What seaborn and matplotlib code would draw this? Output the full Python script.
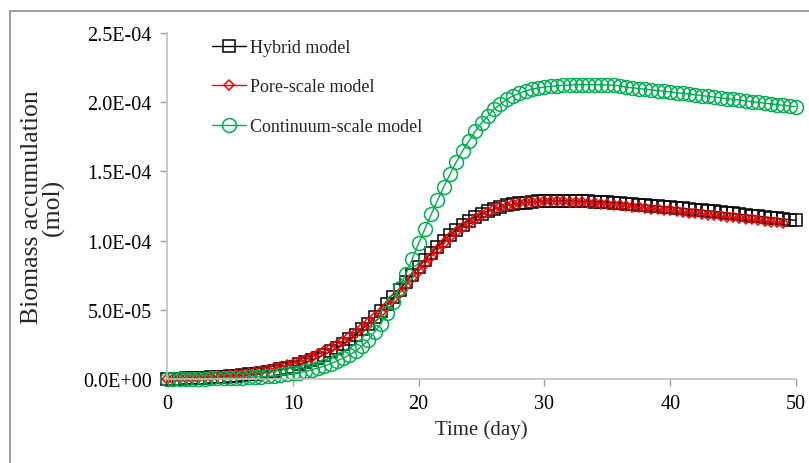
import matplotlib
matplotlib.use('Agg')
import matplotlib.pyplot as plt
import seaborn as sns
import numpy as np
import pandas as pd
from matplotlib.patches import Rectangle

# Biomass accumulation, in units of 1e-6 mol, sampled every 0.5 day
hybrid = [
    0, 0.15, 0.3, 0.45, 0.6, 0.8, 1.0, 1.25, 1.5, 1.8,
    2.1, 2.5, 2.9, 3.4, 3.9, 4.5, 5.2, 6.0, 6.9, 7.9,
    9, 10.5, 12, 13.7, 15.5, 17.7, 20, 22.7, 25.5, 28.7,
    32, 36, 40, 44.5, 49, 54, 59, 64.5, 70, 75.5,
    81, 86, 91, 95.5, 100, 104, 108, 111.5, 114.5, 117.2,
    119.5, 121.4, 123, 124.4, 125.5, 126.3, 127, 127.5, 128, 128.3,
    128.5, 128.6, 128.7, 128.7, 128.7, 128.6, 128.5, 128.4, 128.2, 128,
    127.7, 127.4, 127.1, 126.8, 126.4, 126, 125.7, 125.3, 124.9, 124.5,
    124.1, 123.7, 123.3, 122.9, 122.4, 122, 121.5, 121.1, 120.6, 120.1,
    119.6, 119.1, 118.6, 118.1, 117.6, 117.1, 116.6, 116.1, 115.6, 115.1,
    114.6,
]
pore_scale = [
    0, 0.2, 0.4, 0.6, 0.8, 1.05, 1.3, 1.6, 2.0, 2.4,
    2.8, 3.3, 3.8, 4.4, 5.0, 5.8, 6.6, 7.6, 8.6, 9.8,
    11, 12.5, 14, 15.9, 17.8, 20, 22.3, 24.9, 27.5, 30.5,
    33.5, 37, 40.5, 44.5, 48.5, 53, 57.5, 62.5, 67.5, 72.8,
    78, 83.3, 88.5, 93.3, 98, 102.3, 106.5, 110, 113, 115.9,
    118.5, 120.6, 122.5, 124, 125.3, 126.2, 127, 127.6, 128, 128.2,
    128.4, 128.4, 128.4, 128.3, 128.1, 127.9, 127.6, 127.3, 127, 126.6,
    126.2, 125.8, 125.4, 125, 124.5, 124.1, 123.6, 123.2, 122.7, 122.3,
    121.8, 121.3, 120.8, 120.3, 119.8, 119.3, 118.8, 118.3, 117.8, 117.3,
    116.8, 116.3, 115.8, 115.3, 114.8, 114.3, 113.8, 113.3, 112.8,
]
continuum = [
    0, 0.05, 0.1, 0.15, 0.2, 0.25, 0.3, 0.4, 0.5, 0.6,
    0.7, 0.85, 1.0, 1.2, 1.4, 1.7, 2.0, 2.4, 2.8, 3.4,
    4.0, 4.7, 5.5, 6.7, 8, 9.4, 11, 13, 15, 17.5,
    20, 24, 28, 34, 40, 48, 56, 66, 76, 87,
    98, 108.5, 119, 129, 139, 148, 157, 165, 172, 179,
    185, 190, 195, 198.5, 202, 204.5, 206.5, 208, 209.5, 210.3,
    211, 211.5, 211.9, 212.2, 212.4, 212.6, 212.7, 212.7, 212.7, 212.6,
    212.4, 212.2, 211.9, 210.8, 210.4, 209.9, 209.4, 208.9, 208.4, 207.9,
    207.4, 206.9, 206.4, 205.9, 205.4, 204.8, 204.2, 203.7, 203.2, 202.6,
    202.1, 201.5, 201, 200.4, 199.9, 199.3, 198.8, 198.3, 197.8, 197.3,
    196.8,
]
day_step = 0.5

x_ticks = [0, 10, 20, 30, 40, 50]
y_ticks = [0, 5e-5, 1e-4, 1.5e-4, 2e-4, 2.5e-4]
y_tick_labels = ['0.0E+00', '5.0E-05', '1.0E-04', '1.5E-04', '2.0E-04', '2.5E-04']


def to_frame(values):
    return pd.DataFrame({
        'day': np.arange(len(values)) * day_step,
        'biomass': np.array(values) * 1e-6,
    })


sns.set_style('white')
plt.rcParams['font.family'] = ['Liberation Serif', 'DejaVu Serif']

fig = plt.figure(figsize=(8.09, 4.64), dpi=100)
ax = fig.add_axes([0.2064, 0.181, 0.7776, 0.7457])

# outer chart border like the Excel chart area
fig.patches.append(Rectangle((10 / 809, -0.1), 1.2, 1 - 12 / 464 + 0.1,
                             transform=fig.transFigure, fill=False,
                             edgecolor='#8c8c8c', linewidth=1.2))

sns.lineplot(data=to_frame(hybrid), x='day', y='biomass', ax=ax, color='black',
             linewidth=1.0, marker='s', markersize=8.5, mfc='none', mec='black',
             mew=1.1, label='Hybrid model', clip_on=False)
sns.lineplot(data=to_frame(pore_scale), x='day', y='biomass', ax=ax, color='red',
             linewidth=1.0, marker='D', markersize=5.5, mfc='none', mec='red',
             mew=1.1, label='Pore-scale model', clip_on=False)
sns.lineplot(data=to_frame(continuum), x='day', y='biomass', ax=ax, color='#00b050',
             linewidth=1.0, marker='o', markersize=10, mfc='none', mec='#00b050',
             mew=1.1, label='Continuum-scale model', clip_on=False)

ax.set_xlim(0, 50)
ax.set_ylim(0, 2.5e-4)
ax.set_xticks(x_ticks)
ax.set_yticks(y_ticks)
ax.set_yticklabels(y_tick_labels)
ax.tick_params(axis='both', labelsize=14.5, colors='#a0a0a0', labelcolor='black',
               direction='out', length=5, width=1, bottom=True, left=True, pad=6)

for side in ['top', 'right']:
    ax.spines[side].set_visible(False)
for side in ['left', 'bottom']:
    ax.spines[side].set_color('#c0c0c0')
    ax.spines[side].set_linewidth(1.2)

ax.set_xlabel('Time (day)', fontsize=15, labelpad=4)
ax.set_ylabel('Biomass accumulation\n(mol)', fontsize=18.5, labelpad=13, linespacing=0.92)

ax.legend(loc='upper left', bbox_to_anchor=(0.045, 1.03), frameon=False,
          fontsize=13, handlelength=1.9, handletextpad=0.25, labelspacing=1.25)

fig.savefig('out.png', dpi=100)
